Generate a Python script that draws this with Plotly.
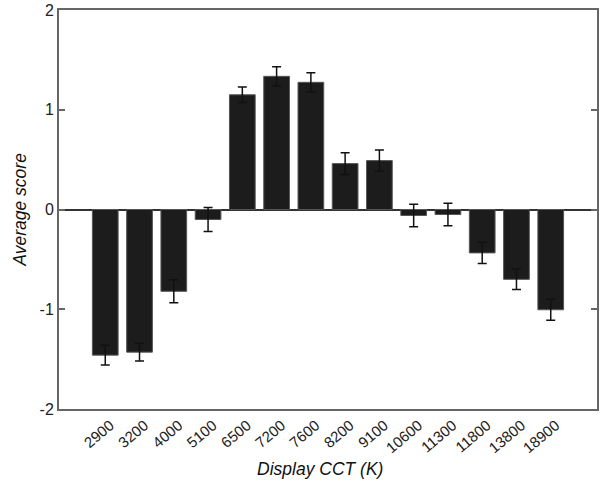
import plotly.graph_objects as go

cct_labels = ["2900", "3200", "4000", "5100", "6500", "7200", "7600",
              "8200", "9100", "10600", "11300", "11800", "13800", "18900"]
avg_score = [-1.46, -1.43, -0.82, -0.10, 1.15, 1.335, 1.275,
             0.46, 0.49, -0.06, -0.05, -0.435, -0.70, -1.005]
score_err = [0.10, 0.09, 0.115, 0.12, 0.078, 0.096, 0.097,
             0.11, 0.106, 0.113, 0.113, 0.106, 0.103, 0.106]
y_ticks = [-2, -1, 0, 1, 2]

font_family = "Liberation Sans, Arial, sans-serif"

fig = go.Figure()
fig.add_trace(go.Bar(
    x=cct_labels,
    y=avg_score,
    width=0.75,
    marker=dict(color="#1c1c1c", line=dict(color="#555555", width=1)),
    error_y=dict(type="data", array=score_err, visible=True,
                 color="#111111", thickness=1.5, width=4.5),
    showlegend=False,
    hoverinfo="skip",
))

fig.update_layout(
    width=601, height=483,
    margin=dict(l=59, r=2, t=7, b=74),
    paper_bgcolor="white", plot_bgcolor="white",
    font=dict(family=font_family, color="#222222", size=14),
    annotations=[
        dict(text="<i>Average score</i>", x=(19 - 59) / 540, y=0.5, xref="paper", yref="paper",
             showarrow=False, textangle=-90, font=dict(size=17.5, family=font_family, color="#111111"),
             xanchor="center", yanchor="middle"),
        dict(text="<i>Display CCT (K)</i>", x=(321 - 59) / 540, y=-(469 - 409) / 402,
             xref="paper", yref="paper",
             showarrow=False, font=dict(size=17.5, family=font_family, color="#111111"),
             xanchor="center", yanchor="middle"),
    ],
)

fig.update_xaxes(
    type="category",
    range=[-1.35, 14.35],
    showline=True, linecolor="#666666", linewidth=2, mirror=True,
    ticks="", tickangle=-40,
    tickfont=dict(size=15, family=font_family, color="#222222"),
    ticklabelshift=5,
    showgrid=False,
)
fig.update_yaxes(
    range=[-2, 2],
    tickvals=y_ticks,
    ticktext=[str(v) for v in y_ticks],
    showline=True, linecolor="#666666", linewidth=2, mirror="ticks",
    ticks="inside", ticklen=6, tickwidth=1.5, tickcolor="#666666",
    tickfont=dict(size=16, family=font_family, color="#222222"),
    ticklabeloverflow="allow",
    showgrid=False,
    zeroline=True, zerolinecolor="#333333", zerolinewidth=1.5,
)

fig.write_html("out.html",
               config={"displayModeBar": False},
               post_script="document.body.style.margin='0';document.body.style.overflow='hidden';")
